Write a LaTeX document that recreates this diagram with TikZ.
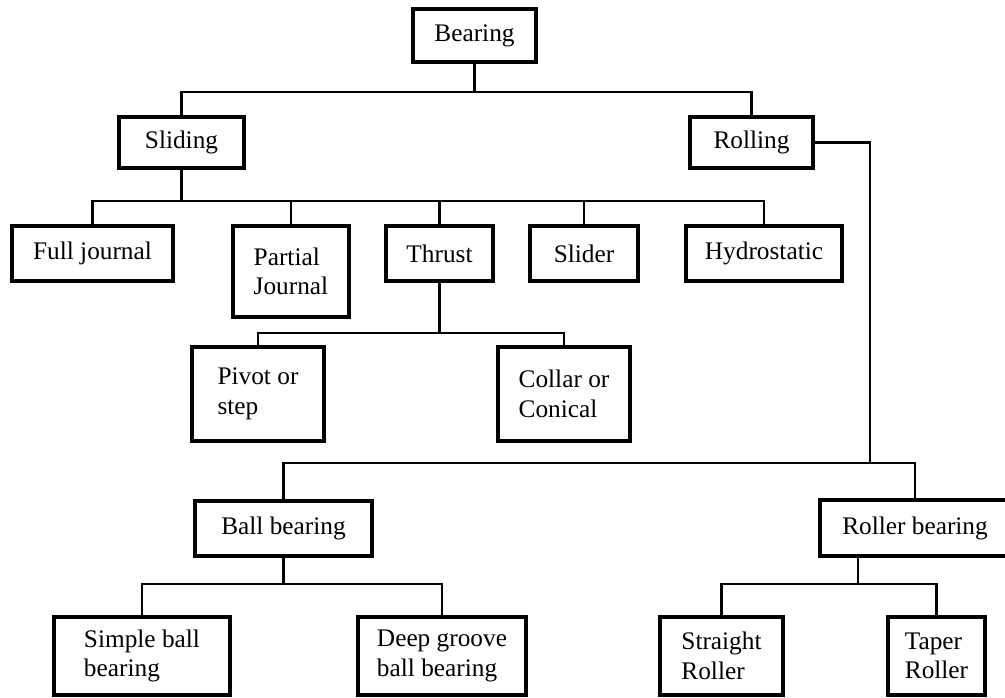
\documentclass[tikz,border=0pt]{standalone}
\usepackage{fontspec}
\setmainfont{Liberation Serif}

\tikzset{
  catbox/.style={draw, line width=2.4pt, rectangle, inner sep=2pt, align=left,
    font=\fontsize{18}{21}\selectfont},
  link/.style={line width=2.1pt},
}

\begin{document}
\begin{tikzpicture}[x=0.025cm, y=-0.025cm]
  \clip (0,0) rectangle (1005,697);

  % top levels
  \node[catbox, minimum width=3.075cm, minimum height=1.325cm] (bearing) at (474.5,35.5) {Bearing};
  \node[catbox, minimum width=3.125cm, minimum height=1.275cm] (sliding) at (181.5,142.5) {Sliding};
  \node[catbox, minimum width=3.075cm, minimum height=1.275cm] (rolling) at (751.5,142.5) {Rolling};

  % sliding types
  \node[catbox, minimum width=4.025cm, minimum height=1.375cm] (fulljournal) at (92.5,253.5) {Full journal};
  \node[catbox, minimum width=2.9cm, minimum height=2.275cm] (partial) at (291,271.5) {Partial\\Journal};
  \node[catbox, minimum width=2.675cm, minimum height=1.375cm] (thrust) at (439.5,253.5) {Thrust};
  \node[catbox, minimum width=2.7cm, minimum height=1.375cm] (slider) at (584,253.5) {Slider};
  \node[catbox, minimum width=3.9cm, minimum height=1.375cm] (hydro) at (764,253.5) {Hydrostatic};

  \node[catbox, minimum width=3.3cm, minimum height=2.35cm] (pivot) at (258,394) {Pivot or\\step};
  \node[catbox, minimum width=3.3cm, minimum height=2.35cm] (collar) at (564,394) {Collar or\\Conical};

  % rolling types
  \node[catbox, minimum width=4.425cm, minimum height=1.375cm] (ball) at (283.5,528.5) {Ball bearing};
  \node[catbox, minimum width=4.75cm, minimum height=1.4cm] (roller) at (915,528) {Roller bearing};

  \node[catbox, minimum width=4.4cm, minimum height=1.95cm] (simple) at (142,656) {Simple ball\\bearing};
  \node[catbox, minimum width=4.2cm, minimum height=1.95cm] (deep) at (442,656) {Deep groove\\ball bearing};
  \node[catbox, minimum width=3.075cm, minimum height=1.95cm] (straight) at (721.5,656) {Straight\\Roller};
  \node[catbox, minimum width=2.425cm, minimum height=1.95cm] (taper) at (936.5,656) {Taper\\Roller};

  % bus points
  \coordinate (bebus) at (474.5,92);
  \coordinate (slbus) at (181.5,201);
  \coordinate (thbus) at (439.5,333);
  \coordinate (robus) at (870,463);
  \coordinate (babus) at (283.5,584);
  \coordinate (rlbus) at (858,584);

  \draw[link] (bearing.south) -- (bebus);
  \foreach \c in {sliding,rolling}
    \draw[link] (bebus) -| (\c.north);

  \draw[link] (sliding.south) -- (slbus);
  \foreach \c in {fulljournal,partial,thrust,slider,hydro}
    \draw[link] (slbus) -| (\c.north);

  \draw[link] (thrust.south) -- (thbus);
  \foreach \c in {pivot,collar}
    \draw[link] (thbus) -| (\c.north);

  \draw[link] (rolling.east) -- (rolling.east -| robus) -- (robus);
  \foreach \c in {ball,roller}
    \draw[link] (robus) -| (\c.north);

  \draw[link] (ball.south) -- (babus);
  \foreach \c in {simple,deep}
    \draw[link] (babus) -| (\c.north);

  \draw[link] (roller.south -| rlbus) -- (rlbus);
  \foreach \c in {straight,taper}
    \draw[link] (rlbus) -| (\c.north);
\end{tikzpicture}
\end{document}
